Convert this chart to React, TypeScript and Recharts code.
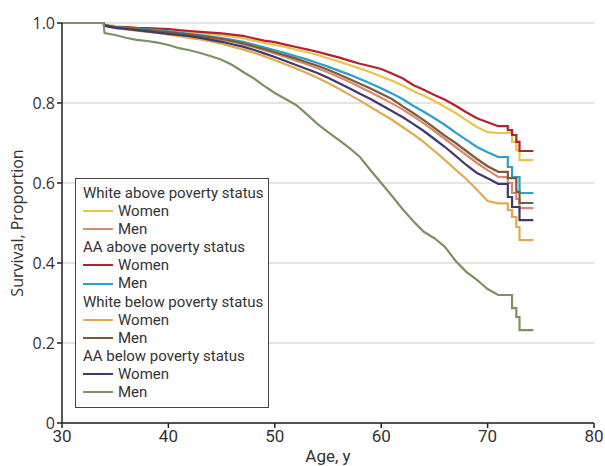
import React from "react";
import { LineChart, Line, XAxis, YAxis, CartesianGrid } from "recharts";

const AGES = [
  30, 33.9,
  34, 35, 36, 37, 38, 39,
  40, 41, 42, 43, 44, 45, 46, 47, 48, 49,
  50, 51, 52, 53, 54, 55, 56, 57, 58, 59,
  60, 61, 62, 63, 64, 65, 66, 67, 68, 69,
  70, 71,
  71.9, 71.9, 72.3, 72.3, 72.7, 72.7, 73, 73, 74.3,
];

const whiteAboveWomen = [1, 1, 0.996, 0.992, 0.99, 0.988, 0.986, 0.985, 0.983, 0.98, 0.978, 0.975, 0.972, 0.969, 0.966, 0.962, 0.956, 0.95, 0.945, 0.94, 0.933, 0.927, 0.92, 0.912, 0.904, 0.895, 0.886, 0.877, 0.866, 0.856, 0.844, 0.83, 0.818, 0.805, 0.79, 0.775, 0.757, 0.74, 0.727, 0.725, 0.725, 0.725, 0.725, 0.703, 0.703, 0.682, 0.682, 0.657, 0.657];
const whiteAboveMen = [1, 1, 0.994, 0.99, 0.987, 0.985, 0.982, 0.979, 0.976, 0.973, 0.97, 0.966, 0.962, 0.958, 0.953, 0.947, 0.94, 0.932, 0.924, 0.915, 0.906, 0.897, 0.887, 0.877, 0.865, 0.853, 0.84, 0.827, 0.813, 0.799, 0.784, 0.767, 0.749, 0.73, 0.71, 0.69, 0.67, 0.65, 0.632, 0.615, 0.615, 0.6, 0.6, 0.575, 0.575, 0.56, 0.56, 0.537, 0.537];
const aaAboveWomen = [1, 1, 0.995, 0.99, 0.99, 0.988, 0.987, 0.986, 0.985, 0.982, 0.98, 0.978, 0.976, 0.974, 0.971, 0.968, 0.962, 0.956, 0.952, 0.946, 0.94, 0.934, 0.928, 0.921, 0.914, 0.906, 0.898, 0.892, 0.885, 0.874, 0.862, 0.845, 0.833, 0.82, 0.808, 0.793, 0.777, 0.762, 0.752, 0.742, 0.742, 0.732, 0.732, 0.72, 0.72, 0.703, 0.703, 0.68, 0.68];
const aaAboveMen = [1, 1, 0.994, 0.99, 0.988, 0.986, 0.984, 0.982, 0.979, 0.976, 0.973, 0.97, 0.966, 0.962, 0.958, 0.953, 0.946, 0.939, 0.932, 0.925, 0.917, 0.909, 0.9, 0.891, 0.881, 0.871, 0.86, 0.849, 0.837, 0.824, 0.81, 0.793, 0.778, 0.762, 0.745, 0.726, 0.708, 0.69, 0.677, 0.665, 0.665, 0.64, 0.64, 0.615, 0.615, 0.615, 0.615, 0.575, 0.575];
const whiteBelowWomen = [1, 1, 0.993, 0.987, 0.984, 0.981, 0.978, 0.975, 0.971, 0.967, 0.963, 0.959, 0.954, 0.948, 0.941, 0.934, 0.926, 0.917, 0.907, 0.897, 0.886, 0.875, 0.863, 0.85, 0.836, 0.821, 0.806, 0.79, 0.774, 0.758, 0.74, 0.722, 0.702, 0.68, 0.657, 0.633, 0.61, 0.583, 0.555, 0.549, 0.549, 0.532, 0.532, 0.515, 0.515, 0.49, 0.49, 0.457, 0.457];
const whiteBelowMen = [1, 1, 0.994, 0.99, 0.987, 0.985, 0.983, 0.98, 0.977, 0.974, 0.971, 0.968, 0.964, 0.96, 0.955, 0.949, 0.942, 0.935, 0.927, 0.919, 0.911, 0.902, 0.893, 0.883, 0.872, 0.86, 0.848, 0.836, 0.823, 0.81, 0.792, 0.775, 0.757, 0.738, 0.718, 0.7, 0.68, 0.66, 0.642, 0.628, 0.628, 0.612, 0.612, 0.612, 0.612, 0.578, 0.578, 0.55, 0.55];
const aaBelowWomen = [1, 1, 0.993, 0.988, 0.985, 0.982, 0.979, 0.976, 0.973, 0.97, 0.967, 0.963, 0.958, 0.953, 0.947, 0.941, 0.933, 0.924, 0.915, 0.905, 0.895, 0.885, 0.875, 0.863, 0.85, 0.837, 0.823, 0.81, 0.795, 0.78, 0.765, 0.748, 0.73, 0.71, 0.69, 0.668, 0.645, 0.625, 0.612, 0.598, 0.598, 0.565, 0.565, 0.54, 0.54, 0.54, 0.54, 0.507, 0.507];
const aaBelowMen = [1, 1, 0.975, 0.97, 0.963, 0.958, 0.955, 0.951, 0.945, 0.937, 0.932, 0.925, 0.917, 0.908, 0.895, 0.878, 0.862, 0.843, 0.825, 0.81, 0.795, 0.772, 0.748, 0.727, 0.708, 0.688, 0.665, 0.632, 0.6, 0.568, 0.535, 0.505, 0.478, 0.462, 0.44, 0.405, 0.378, 0.358, 0.335, 0.32, 0.32, 0.32, 0.32, 0.287, 0.287, 0.265, 0.265, 0.232, 0.232];

const X_TICKS = [30, 40, 50, 60, 70, 80];
const Y_TICKS = [0, 0.2, 0.4, 0.6, 0.8, 1.0];

const GROUPS = [
  {
    title: "White above poverty status",
    series: [
      { key: "wAW", label: "Women", color: "#E8C64B", values: whiteAboveWomen },
      { key: "wAM", label: "Men", color: "#D98A6C", values: whiteAboveMen },
    ],
  },
  {
    title: "AA above poverty status",
    series: [
      { key: "aAW", label: "Women", color: "#B71F2E", values: aaAboveWomen },
      { key: "aAM", label: "Men", color: "#2B9FCF", values: aaAboveMen },
    ],
  },
  {
    title: "White below poverty status",
    series: [
      { key: "wBW", label: "Women", color: "#E2A94F", values: whiteBelowWomen },
      { key: "wBM", label: "Men", color: "#7B5B3B", values: whiteBelowMen },
    ],
  },
  {
    title: "AA below poverty status",
    series: [
      { key: "aBW", label: "Women", color: "#3E3A6D", values: aaBelowWomen },
      { key: "aBM", label: "Men", color: "#7C9262", values: aaBelowMen },
    ],
  },
];

const ALL_SERIES = GROUPS.flatMap((g) => g.series);

const data = AGES.map((age, i) => {
  const row: Record<string, number> = { age };
  ALL_SERIES.forEach((s) => {
    row[s.key] = s.values[i];
  });
  return row;
});

const FONT = "'Roboto', sans-serif";
const TEXT = "#333";

const LegendBox = () => (
  <div
    style={{
      position: "absolute",
      left: 75,
      top: 178,
      width: 194,
      height: 230,
      boxSizing: "border-box",
      border: "1px solid #444",
      background: "#fff",
      padding: "5px 0 0 7px",
      fontFamily: FONT,
      fontSize: 15,
      color: TEXT,
      lineHeight: "18.1px",
    }}
  >
    {GROUPS.map((g) => (
      <div key={g.title}>
        <div style={{ whiteSpace: "nowrap" }}>{g.title}</div>
        {g.series.map((s) => (
          <div key={s.key} style={{ display: "flex", alignItems: "center" }}>
            <span
              style={{
                display: "inline-block",
                width: 30,
                height: 2,
                background: s.color,
                marginRight: 5,
              }}
            />
            <span>{s.label}</span>
          </div>
        ))}
      </div>
    ))}
  </div>
);

export default function App() {
  return (
    <div style={{ position: "absolute", left: 0, top: 0, width: 605, height: 466, background: "#fff" }}>
      <LineChart
        width={605}
        height={466}
        data={data}
        margin={{ top: 23, right: 11, left: 0, bottom: 0 }}
      >
        <CartesianGrid horizontal={true} vertical={false} stroke="#dcdcdc" strokeWidth={1.5} />
        <XAxis
          dataKey="age"
          type="number"
          domain={[30, 80]}
          ticks={X_TICKS}
          height={43}
          axisLine={{ stroke: "#222", strokeWidth: 1.5 }}
          tickLine={{ stroke: "#222", strokeWidth: 1.5 }}
          tickSize={5}
          tick={{ fill: TEXT, fontSize: 17, fontFamily: FONT }}
          label={{
            value: "Age, y",
            position: "insideBottom",
            offset: 4,
            style: { fill: TEXT, fontSize: 17, fontFamily: FONT },
          }}
        />
        <YAxis
          type="number"
          domain={[0, 1]}
          ticks={Y_TICKS}
          width={62}
          axisLine={{ stroke: "#222", strokeWidth: 1.5 }}
          tickLine={{ stroke: "#222", strokeWidth: 1.5 }}
          tickSize={5}
          tickFormatter={(v: number) => (v === 0 ? "0" : v.toFixed(1))}
          tick={{ fill: TEXT, fontSize: 16, fontFamily: "'Open Sans', sans-serif" }}
          label={{
            content: (props: any) => {
              const vb = props.viewBox || {};
              const cx = 17;
              const cy = (vb.y ?? 23) + (vb.height ?? 400) / 2;
              return (
                <text
                  x={cx}
                  y={cy}
                  transform={`rotate(-90, ${cx}, ${cy})`}
                  textAnchor="middle"
                  dominantBaseline="central"
                  fill={TEXT}
                  fontSize={16}
                  fontFamily="'Open Sans', sans-serif"
                >
                  Survival, Proportion
                </text>
              );
            },
          }}
        />
        {ALL_SERIES.map((s) => (
          <Line
            key={s.key}
            dataKey={s.key}
            name={s.label}
            type="linear"
            stroke={s.color}
            strokeWidth={2.2}
            dot={false}
            activeDot={false}
            isAnimationActive={false}
          />
        ))}
      </LineChart>
      <LegendBox />
    </div>
  );
}
